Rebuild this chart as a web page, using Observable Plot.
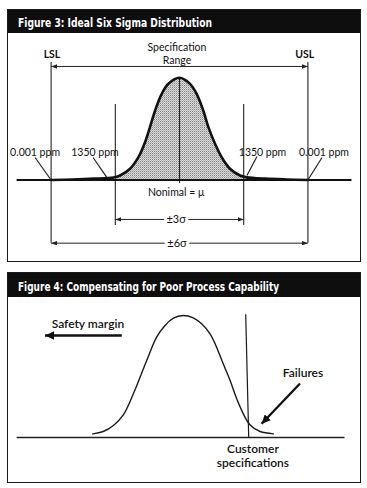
<!DOCTYPE html>
<html><head><meta charset="utf-8">
<script src="https://cdn.jsdelivr.net/npm/d3@7"></script>
<script src="https://cdn.jsdelivr.net/npm/@observablehq/plot@0.6"></script>
<style>
html,body{margin:0;padding:0;background:#fff;}
body{width:367px;height:488px;position:relative;overflow:hidden;}
.panel{position:absolute;left:7px;width:354px;border:1.5px solid #1a1a1a;box-sizing:border-box;background:#fff;}
.title{background:#0e0e0e;color:#fff;font-family:"DejaVu Sans Condensed","DejaVu Sans",sans-serif;font-weight:bold;font-size:12.5px;white-space:nowrap;overflow:hidden;padding-left:9.5px;box-sizing:border-box;}
.title span{display:inline-block;transform-origin:0 50%;}
.chart svg{display:block;}
</style></head><body>
<svg width="0" height="0" style="position:absolute"><defs>
<pattern id="stipple" width="2" height="2" patternUnits="userSpaceOnUse">
<rect width="2" height="2" fill="#dcdcdc"/><rect width="1" height="1" fill="#858585"/><rect x="1" y="1" width="1" height="1" fill="#b0b0b0"/>
</pattern></defs></svg>
<div class="panel" style="top:9px;height:253px;">
  <div class="title" style="height:22.5px;line-height:22.5px;"><span id="t1"></span></div>
  <div class="chart" id="c1"></div>
</div>
<div class="panel" style="top:272px;height:211px;">
  <div class="title" style="height:23.5px;line-height:23.5px;"><span id="t2"></span></div>
  <div class="chart" id="c2"></div>
</div>
<script>
// ---------- titles ----------
const titles = ["Figure 3: Ideal Six Sigma Distribution", "Figure 4: Compensating for Poor Process Capability"];

// ---------- Figure 3 data (x in sigma units, y relative to peak height) ----------
const curve1X = [-6.0, -5.0, -4.0, -3.09, -2.78, -2.31, -1.92, -1.61, -1.38, -1.14, -0.83, -0.52, 0, 0.49, 0.80, 1.11, 1.35, 1.66, 1.97, 2.36, 2.83, 3.14, 4.0, 5.0, 6.0];
const curve1Y = [0.0, 0.005, 0.013, 0.024, 0.044, 0.11, 0.223, 0.37, 0.517, 0.68, 0.843, 0.941, 1.0, 0.941, 0.843, 0.68, 0.517, 0.354, 0.223, 0.11, 0.044, 0.027, 0.013, 0.005, 0.0];
const baseline1 = [-7.59, 8.06];
const specLineX = [-6, 6, -3, 3, 0];
const specLineY1 = [-0.618, -0.618, -0.445, -0.445, -0.034];
const specLineY2 = [1.15, 1.15, 0.739, 0.739, 1.0];
const dimFrom = [0, 0, 0, 0, 0, 0];
const dimTo = [-6, 6, -3, 3, -6, 6];
const dimY = [1.111, 1.111, -0.386, -0.386, -0.618, -0.618];
const limitLabels = ["LSL", "USL"];
const limitX = [-5.96, 5.85];
const limitY = [1.228, 1.228];
const notes1 = ["Specification", "Range", "0.001 ppm", "1350 ppm", "1350 ppm", "0.001 ppm", "Nonimal = \u03bc"];
const notes1X = [-0.12, -0.12, -6.75, -3.95, 3.88, 6.75, -0.16];
const notes1Y = [1.292, 1.172, 0.269, 0.269, 0.269, 0.269, -0.122];
const sigmaLabels = ["\u00b13\u03c3", "\u00b16\u03c3"];
const sigmaLabelX = [-0.16, -0.12];
const sigmaLabelY = [-0.386, -0.618];
const leaderX1 = [-6.75, -4.04, 3.62, 6.66];
const leaderY1 = [0.22, 0.22, 0.23, 0.22];
const leaderX2 = [-6.0, -3.39, 3.15, 6.0];
const leaderY2 = [0.0, 0.024, 0.044, 0.0];

// ---------- Figure 4 data ----------
const curve2X = [-3.01, -2.66, -2.32, -1.99, -1.77, -1.54, -1.32, -1.10, -0.88, -0.60, -0.32, 0.01, 0.34, 0.62, 0.90, 1.12, 1.34, 1.57, 1.79, 2.01, 2.23, 2.57, 3.01];
const curve2Y = [0.030, 0.049, 0.098, 0.185, 0.292, 0.426, 0.563, 0.699, 0.822, 0.918, 0.978, 1.0, 0.981, 0.932, 0.850, 0.740, 0.604, 0.467, 0.317, 0.194, 0.104, 0.049, 0.030];
const baseline2 = [-5.53, 5.4];
const specLine2 = {x1: 2.19, y1: 0.0, x2: 2.09, y2: 1.01};
const arrows2X1 = [-2.04, 3.9];
const arrows2Y1 = [0.836, 0.443];
const arrows2X2 = [-4.6, 2.62];
const arrows2Y2 = [0.836, 0.112];
const notes2 = ["Safety margin", "Failures", "Customer", "specifications"];
const notes2X = [-3.17, 4.0, 2.33, 2.33];
const notes2Y = [0.93, 0.525, -0.098, -0.209];

// ---------- helpers ----------
function head(len, wid) {
  return (color, context) => {
    const doc = (context && context.document) || document;
    const ns = "http://www.w3.org/2000/svg";
    const m = doc.createElementNS(ns, "marker");
    m.setAttribute("viewBox", `0 ${-wid / 2} ${len} ${wid}`);
    m.setAttribute("markerWidth", len);
    m.setAttribute("markerHeight", wid);
    m.setAttribute("refX", len);
    m.setAttribute("refY", 0);
    m.setAttribute("orient", "auto");
    m.setAttribute("markerUnits", "userSpaceOnUse");
    const p = doc.createElementNS(ns, "path");
    p.setAttribute("d", `M0,${-wid / 2}L${len},0L0,${wid / 2}Z`);
    p.setAttribute("fill", color);
    p.setAttribute("stroke", "none");
    m.appendChild(p);
    return m;
  };
}
function linkMark(data, opts, len, wid) {
  try { return Plot.link(data, {...opts, markerEnd: head(len, wid)}); }
  catch (e) { return Plot.link(data, {...opts, markerEnd: "arrow"}); }
}
const LABEL_FONT = "Lato, 'Open Sans', sans-serif";
const INK = "#111";

// ---------- Figure 3 ----------
const pts1 = curve1X.map((x, i) => ({x, y: curve1Y[i]}));
const core1 = pts1.filter(d => Math.abs(d.x) <= 3.2);
const leftTail = pts1.filter(d => d.x <= -3);
const rightTail = pts1.filter(d => d.x >= 3);
const rules1 = specLineX.map((x, i) => ({x, y1: specLineY1[i], y2: specLineY2[i]}));
const dims1 = dimFrom.map((f, i) => ({x1: f, x2: dimTo[i], y: dimY[i]}));
const limits1 = limitLabels.map((t, i) => ({t, x: limitX[i], y: limitY[i]}));
const notes1D = notes1.map((t, i) => ({t, x: notes1X[i], y: notes1Y[i]}));
const sig1 = sigmaLabels.map((t, i) => ({t, x: sigmaLabelX[i], y: sigmaLabelY[i]}));
const leaders1 = leaderX1.map((x1, i) => ({x1, y1: leaderY1[i], x2: leaderX2[i], y2: leaderY2[i]}));

const chart1 = Plot.plot({
  width: 351, height: 227, margin: 0,
  x: {domain: [-7.991, 8.411], axis: null},
  y: {domain: [-0.7877, 1.4335], axis: null},
  marks: [
    Plot.areaY(core1, {x: "x", y: "y", fill: "url(#stipple)", curve: "catmull-rom"}),
    Plot.areaY(leftTail, {x: "x", y: "y", fill: INK, curve: "catmull-rom"}),
    Plot.areaY(rightTail, {x: "x", y: "y", fill: INK, curve: "catmull-rom"}),
    Plot.ruleX(rules1, {x: "x", y1: "y1", y2: "y2", stroke: "#222", strokeWidth: 1.1}),
    Plot.ruleY([{y: 0, x1: baseline1[0], x2: baseline1[1]}], {y: "y", x1: "x1", x2: "x2", stroke: INK, strokeWidth: 2}),
    Plot.line(pts1, {x: "x", y: "y", stroke: INK, strokeWidth: 2.6, curve: "catmull-rom"}),
    Plot.link(leaders1, {x1: "x1", y1: "y1", x2: "x2", y2: "y2", stroke: "#222", strokeWidth: 1.2}),
    linkMark(dims1, {x1: "x1", x2: "x2", y1: "y", y2: "y", stroke: "#222", strokeWidth: 1}, 6, 4.5),
    Plot.text(sig1, {x: "x", y: "y", text: "t", fontFamily: LABEL_FONT, fontSize: 11, fill: INK, stroke: "white", strokeWidth: 6}),
    Plot.text(notes1D, {x: "x", y: "y", text: "t", fontFamily: LABEL_FONT, fontSize: 10.5, fill: INK}),
    Plot.text(limits1, {x: "x", y: "y", text: "t", fontFamily: LABEL_FONT, fontSize: 10.5, fontWeight: "bold", fill: INK})
  ]
});
document.getElementById("c1").appendChild(chart1);

// ---------- Figure 4 ----------
const pts2 = curve2X.map((x, i) => ({x, y: curve2Y[i]}));
const arrows2 = arrows2X1.map((x1, i) => ({x1, y1: arrows2Y1[i], x2: arrows2X2[i], y2: arrows2Y2[i]}));
const notes2D = notes2.map((t, i) => ({t, x: notes2X[i], y: notes2Y[i]}));

const chart2 = Plot.plot({
  width: 351, height: 184, margin: 0,
  x: {domain: [-5.817, 5.883], axis: null},
  y: {domain: [-0.3607, 1.1475], axis: null},
  marks: [
    Plot.ruleY([{y: 0, x1: baseline2[0], x2: baseline2[1]}], {y: "y", x1: "x1", x2: "x2", stroke: "#222", strokeWidth: 1.3}),
    Plot.line(pts2, {x: "x", y: "y", stroke: "#1a1a1a", strokeWidth: 1.4, curve: "natural"}),
    Plot.link([specLine2], {x1: "x1", y1: "y1", x2: "x2", y2: "y2", stroke: "#1a1a1a", strokeWidth: 1.2}),
    linkMark(arrows2, {x1: "x1", y1: "y1", x2: "x2", y2: "y2", stroke: INK, strokeWidth: 2.3}, 9, 8.5),
    Plot.text(notes2D, {x: "x", y: "y", text: "t", fontFamily: LABEL_FONT, fontSize: 12, fontWeight: 600, fill: INK})
  ]
});
document.getElementById("c2").appendChild(chart2);

// ---------- fit condensed titles ----------
function fitTitle(id, text, target) {
  const el = document.getElementById(id);
  el.textContent = text;
  const w = el.getBoundingClientRect().width;
  el.style.transform = `translateY(2px) scaleX(${target / w})`;
}
fitTitle("t1", titles[0], 194);
fitTitle("t2", titles[1], 261);
</script>
</body></html>
